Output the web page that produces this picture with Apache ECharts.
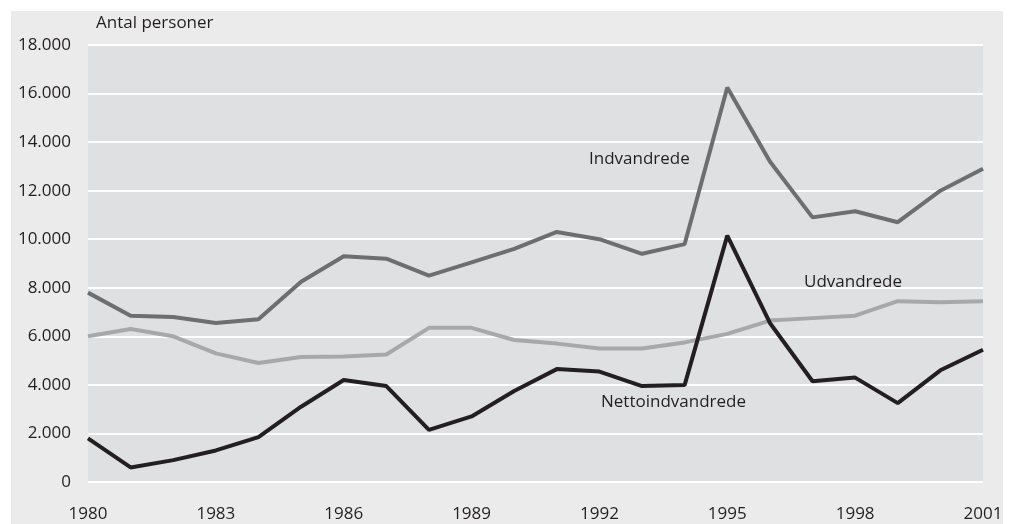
<!DOCTYPE html>
<html>
<head>
<meta charset="utf-8">
<script src="https://cdn.jsdelivr.net/npm/echarts@6/dist/echarts.min.js"></script>
<style>
  html, body { margin: 0; padding: 0; background: #fff; }
  #chart { width: 1016px; height: 524px; }
</style>
</head>
<body>
<div id="chart"></div>
<script>
// years 1980-2001
var years = [1980, 1981, 1982, 1983, 1984, 1985, 1986, 1987, 1988, 1989, 1990,
  1991, 1992, 1993, 1994, 1995, 1996, 1997, 1998, 1999, 2000, 2001]
var indvandrede = [7800, 6850, 6800, 6550, 6700, 8250, 9300, 9200, 8500, 9050, 9600,
  10300, 10000, 9400, 9800, 16250, 13200, 10900, 11150, 10700, 12000, 12900]
var udvandrede = [6000, 6300, 6000, 5300, 4900, 5150, 5170, 5250, 6350, 6350, 5850,
  5700, 5500, 5500, 5750, 6100, 6650, 6750, 6850, 7450, 7400, 7450]
var netto = [1800, 600, 900, 1300, 1850, 3100, 4200, 3950, 2150, 2700, 3750,
  4650, 4550, 3950, 4000, 10150, 6550, 4150, 4300, 3250, 4600, 5450]

function pairs(vals) {
  return years.map(function (y, i) { return [y, vals[i]] })
}

var font = '"Open Sans", sans-serif'
var textColor = '#231f20'

var myChart = echarts.init(document.getElementById('chart'))
var option = {
  backgroundColor: '#ffffff',
  animation: false,
  graphic: [
    {
      type: 'rect',
      shape: { x: 11, y: 11, width: 992, height: 520 },
      style: { fill: '#ebebec' },
      z: -100
    },
    {
      type: 'text', left: 96, top: 15,
      style: { text: 'Antal personer', font: '17px ' + font, fill: textColor }
    },
    {
      type: 'text', left: 589, top: 151,
      style: { text: 'Indvandrede', font: '17px ' + font, fill: textColor }
    },
    {
      type: 'text', left: 804, top: 274,
      style: { text: 'Udvandrede', font: '17px ' + font, fill: textColor }
    },
    {
      type: 'text', left: 601, top: 394,
      style: { text: 'Nettoindvandrede', font: '17px ' + font, fill: textColor }
    }
  ],
  grid: {
    left: 88, right: 33, top: 45, bottom: 42,
    show: true, backgroundColor: '#dfe0e2', borderWidth: 0
  },
  xAxis: {
    type: 'value',
    min: 1980, max: 2001, interval: 3,
    axisLine: { show: false },
    axisTick: { show: false },
    splitLine: { show: false },
    axisLabel: {
      margin: 24,
      color: textColor,
      fontFamily: font,
      fontSize: 17,
      formatter: function (v) { return String(v) }
    }
  },
  yAxis: {
    type: 'value',
    min: 0, max: 18000, interval: 2000,
    axisLine: { show: false },
    axisTick: { show: false },
    splitLine: { lineStyle: { color: '#ffffff', width: 2 } },
    axisLabel: {
      margin: 17,
      color: textColor,
      fontFamily: font,
      fontSize: 17,
      formatter: function (v) {
        return String(v).replace(/\B(?=(\d{3})+(?!\d))/g, '.')
      }
    }
  },
  series: [
    {
      name: 'Udvandrede', type: 'line', data: pairs(udvandrede),
      showSymbol: false, lineStyle: { color: '#a7a8aa', width: 4 }
    },
    {
      name: 'Indvandrede', type: 'line', data: pairs(indvandrede),
      showSymbol: false, lineStyle: { color: '#6d6e70', width: 4 }
    },
    {
      name: 'Nettoindvandrede', type: 'line', data: pairs(netto),
      showSymbol: false, lineStyle: { color: '#231f20', width: 4 }
    }
  ]
}
myChart.setOption(option)
</script>
</body>
</html>
